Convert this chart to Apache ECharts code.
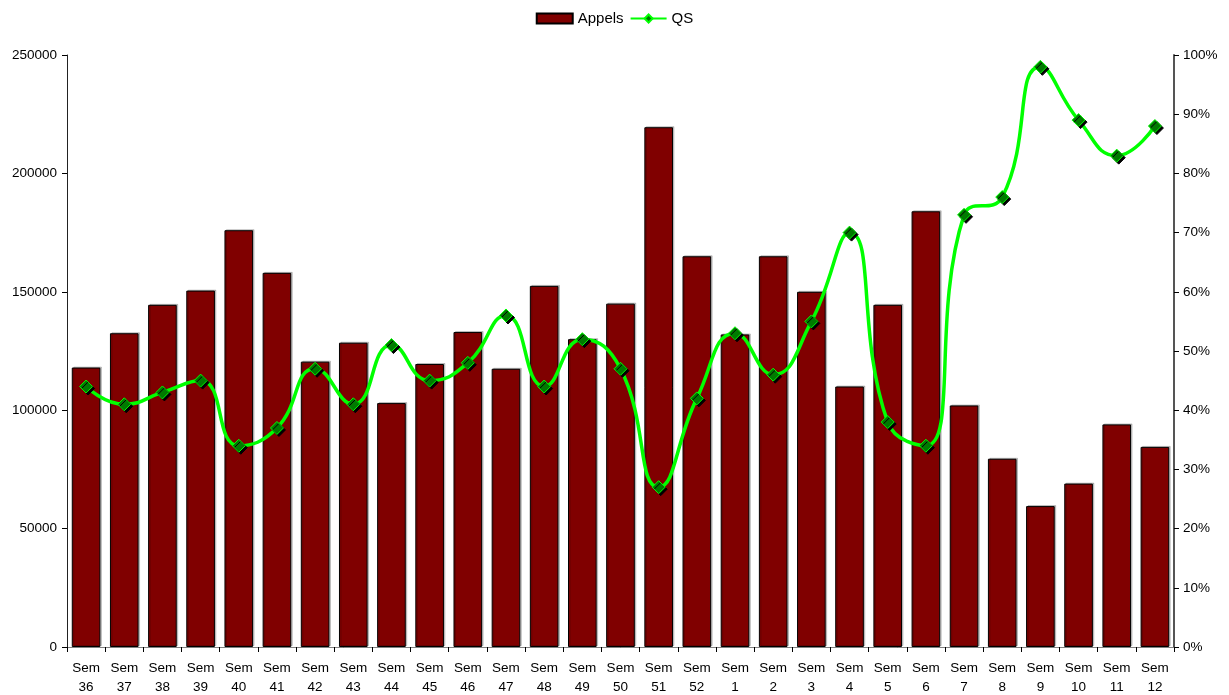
<!DOCTYPE html>
<html>
<head>
<meta charset="utf-8">
<script src="https://cdn.jsdelivr.net/npm/echarts@6/dist/echarts.min.js"></script>
<style>html,body{margin:0;padding:0;background:#fff}#c{width:1229px;height:695px}</style>
</head>
<body>
<div id="c"></div>
<script>
var categories = ['Sem\n36','Sem\n37','Sem\n38','Sem\n39','Sem\n40','Sem\n41','Sem\n42','Sem\n43','Sem\n44','Sem\n45','Sem\n46','Sem\n47','Sem\n48','Sem\n49','Sem\n50','Sem\n51','Sem\n52','Sem\n1','Sem\n2','Sem\n3','Sem\n4','Sem\n5','Sem\n6','Sem\n7','Sem\n8','Sem\n9','Sem\n10','Sem\n11','Sem\n12'];
var appels = [118000,132500,144500,150500,176000,158000,120500,128500,103000,119500,133000,117500,152500,130000,145000,219500,165000,132000,165000,150000,110000,144500,184000,102000,79500,59500,69000,94000,84500];
var qs = [44,41,43,45,34,37,47,41,51,45,48,56,44,52,47,27,42,53,46,55,70,38,34,73,76,98,89,83,88];
var leftTicks = {min:0, max:250000, interval:50000};
var rightTicks = {min:0, max:100, interval:10};

var font = 'Liberation Sans, Arial, sans-serif';
var chart = echarts.init(document.getElementById('c'));
chart.setOption({
  animation: false,
  backgroundColor: '#fff',
  legend: {
    top: 6, left: 'center',
    itemWidth: 36, itemHeight: 10, itemGap: 6,
    textStyle: {fontFamily: font, fontSize: 15, color: '#000'},
    data: [{name: 'Appels', icon: 'rect'}, {name: 'QS'}]
  },
  grid: {left: 67, right: 55, top: 55, bottom: 48, outerBoundsMode: 'none', containLabel: false},
  xAxis: [{
    type: 'category', data: categories, position: 'bottom',
    axisLine: {lineStyle: {color: '#000', width: 1}},
    axisTick: {show: true, length: 5, lineStyle: {color: '#000'}},
    axisLabel: {fontFamily: font, fontSize: 13.5, color: '#000', lineHeight: 19, margin: 12, interval: 0}
  }, {
    type: 'category', data: categories, position: 'top',
    axisLine: {lineStyle: {color: '#808080', width: 1}},
    axisTick: {show: false}, axisLabel: {show: false}
  }],
  yAxis: [{
    type: 'value', min: leftTicks.min, max: leftTicks.max, interval: leftTicks.interval,
    axisLine: {show: true, lineStyle: {color: '#222', width: 1}},
    axisTick: {show: true, length: 5, lineStyle: {color: '#000'}},
    splitLine: {show: false},
    axisLabel: {fontFamily: font, fontSize: 13.5, color: '#000', margin: 10,
      formatter: function (v) { return String(v); }}
  }, {
    type: 'value', min: rightTicks.min, max: rightTicks.max, interval: rightTicks.interval, position: 'right',
    axisLine: {show: true, lineStyle: {color: '#555', width: 2}},
    axisTick: {show: true, length: 5, inside: false, lineStyle: {color: '#000'}},
    splitLine: {show: false},
    axisLabel: {fontFamily: font, fontSize: 13.5, color: '#000', margin: 9, formatter: '{value}%'}
  }],
  series: [{
    name: 'Appels', type: 'bar', data: appels, yAxisIndex: 0,
    barCategoryGap: '25%',
    itemStyle: {color: '#800000', borderColor: '#000', borderWidth: 1,
      shadowColor: 'rgba(0,0,0,0.2)', shadowOffsetX: 1.5, shadowOffsetY: -1, shadowBlur: 0}
  }, {
    name: 'QS', type: 'line', data: qs, yAxisIndex: 1,
    smooth: 0.5,
    symbol: 'diamond', symbolSize: 13,
    lineStyle: {color: '#00ff00', width: 3.5},
    itemStyle: {color: '#007a00', borderColor: '#00ff00', borderWidth: 1,
      shadowColor: '#000', shadowOffsetX: 2, shadowOffsetY: 2, shadowBlur: 0}
  }]
});
</script>
</body>
</html>
